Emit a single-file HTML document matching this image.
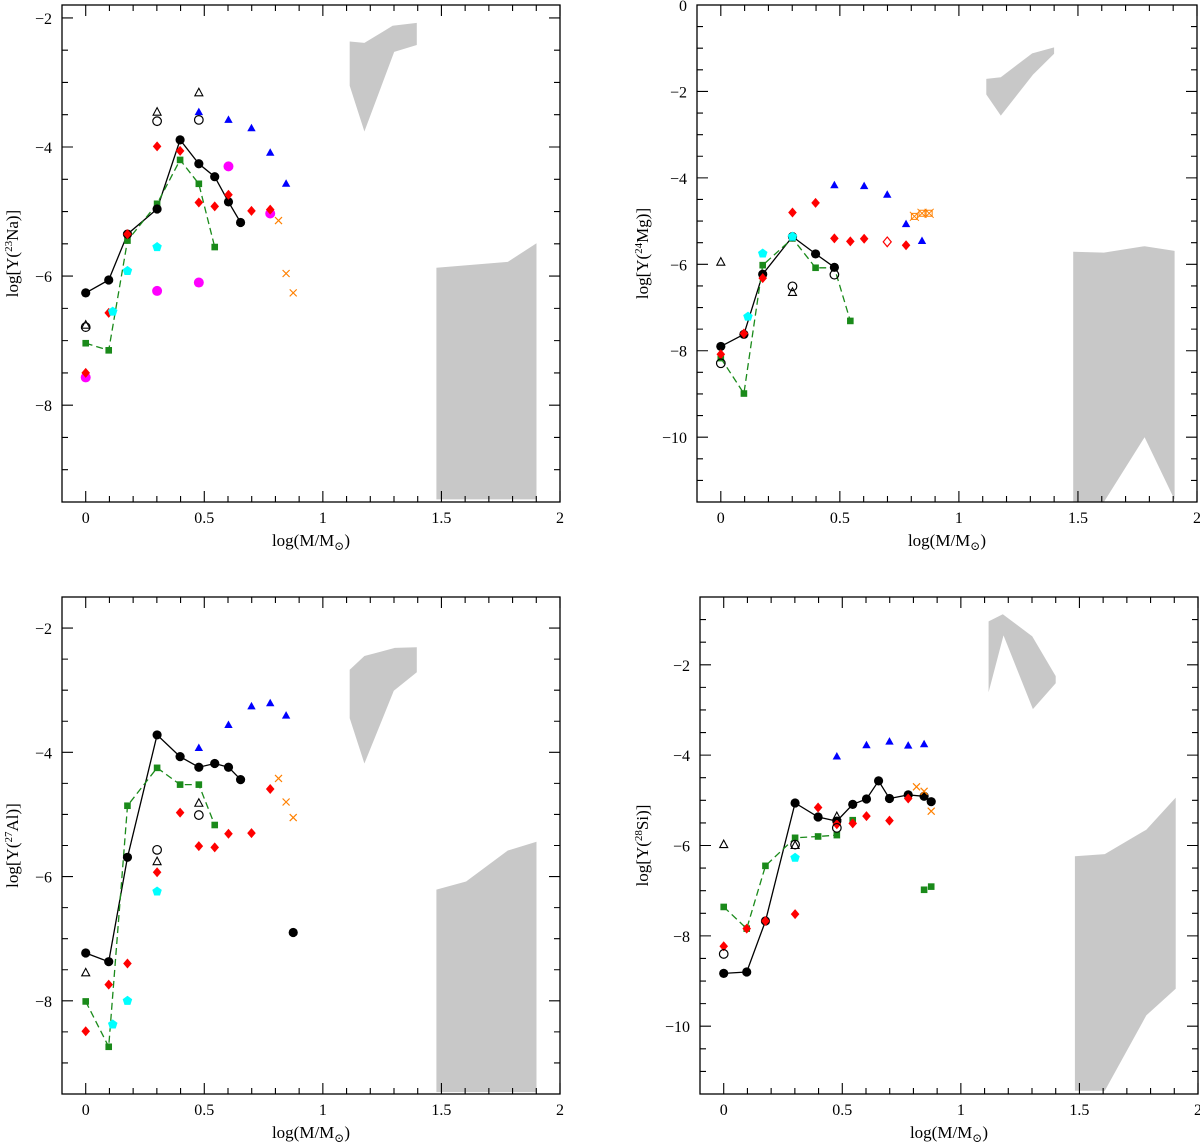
<!DOCTYPE html>
<html><head><meta charset="utf-8"><style>
html,body{margin:0;padding:0;background:#fff;}
svg text{font-family:"Liberation Serif","DejaVu Serif",serif;fill:#000;}
</style></head><body>
<svg id="fig" width="1200" height="1142" viewBox="0 0 1200 1142" xmlns="http://www.w3.org/2000/svg"></svg>
<script>
// ---------- data (x = log M/Msun, y = log abundance) ----------
// Na panel
const naBlack=[[0,-6.26],[0.097,-6.06],[0.176,-5.35],[0.301,-4.96],[0.398,-3.89],[0.477,-4.26],[0.544,-4.46],[0.602,-4.85],[0.653,-5.17]];
const naGreen=[[0,-7.04],[0.097,-7.15],[0.176,-5.45],[0.301,-4.88],[0.398,-4.20],[0.477,-4.57],[0.544,-5.55]];
const naRed=[[0,-7.50],[0.097,-6.57],[0.176,-5.35],[0.301,-3.99],[0.398,-4.06],[0.477,-4.86],[0.544,-4.92],[0.602,-4.74],[0.699,-4.99],[0.778,-4.97]];
const naMagenta=[[0,-7.57],[0.301,-6.23],[0.477,-6.10],[0.602,-4.30],[0.778,-5.03]];
const naCyan=[[0.114,-6.55],[0.176,-5.92],[0.301,-5.55]];
const naBlue=[[0.477,-3.46],[0.602,-3.58],[0.699,-3.71],[0.778,-4.09],[0.845,-4.57]];
const naOrange=[[0.813,-5.14],[0.845,-5.96],[0.875,-6.26]];
const naOpenTri=[[0,-6.76],[0.301,-3.46],[0.477,-3.16]];
const naOpenCirc=[[0,-6.79],[0.301,-3.60],[0.477,-3.58]];
const naGray1=[[1.113,-2.365],[1.175,-2.387],[1.294,-2.122],[1.396,-2.078],[1.396,-2.42],[1.301,-2.526],[1.175,-3.76],[1.113,-3.05]];
const naGray2=[[1.479,-5.87],[1.78,-5.78],[1.901,-5.49],[1.901,-9.46],[1.479,-9.46]];
// Mg panel
const mgBlack=[[0,-7.90],[0.097,-7.62],[0.176,-6.23],[0.301,-5.36],[0.398,-5.76],[0.477,-6.07]];
const mgGreen=[[0,-8.17],[0.097,-8.99],[0.176,-6.02],[0.301,-5.40],[0.398,-6.08],[0.477,-6.08],[0.544,-7.31]];
const mgRed=[[0,-8.08],[0.097,-7.60],[0.176,-6.32],[0.301,-4.80],[0.398,-4.58],[0.477,-5.40],[0.544,-5.47],[0.602,-5.41],[0.778,-5.56]];
const mgRedOpen=[[0.699,-5.48]];
const mgCyan=[[0.114,-7.21],[0.176,-5.75],[0.301,-5.36]];
const mgBlue=[[0.477,-4.17],[0.602,-4.19],[0.699,-4.39],[0.778,-5.07],[0.845,-5.46]];
const mgOrangeStar=[[0.813,-4.89],[0.845,-4.82],[0.875,-4.82]];
const mgOpenTri=[[0,-5.95],[0.301,-6.65]];
const mgOpenCirc=[[0,-8.29],[0.301,-6.51],[0.477,-6.24]];
const mgGray1=[[1.115,-1.71],[1.176,-1.67],[1.308,-1.12],[1.40,-0.98],[1.40,-1.13],[1.311,-1.61],[1.176,-2.56],[1.115,-2.07]];
const mgGray2=[[1.48,-5.71],[1.609,-5.73],[1.78,-5.58],[1.906,-5.69],[1.906,-11.45],[1.78,-10.0],[1.609,-11.5],[1.48,-11.5]];
// Al panel
const alBlack=[[0,-7.23],[0.097,-7.37],[0.176,-5.69],[0.301,-3.72],[0.398,-4.07],[0.477,-4.24],[0.544,-4.18],[0.602,-4.24],[0.653,-4.44]];
const alBlackSingle=[[0.875,-6.90]];
const alGreen=[[0,-8.01],[0.097,-8.74],[0.176,-4.86],[0.301,-4.25],[0.398,-4.52],[0.477,-4.52],[0.544,-5.17]];
const alRed=[[0,-8.49],[0.097,-7.74],[0.176,-7.40],[0.301,-5.93],[0.398,-4.97],[0.477,-5.51],[0.544,-5.53],[0.602,-5.31],[0.699,-5.30],[0.778,-4.59]];
const alCyan=[[0.114,-8.38],[0.176,-8.00],[0.301,-6.24]];
const alBlue=[[0.477,-3.93],[0.602,-3.56],[0.699,-3.26],[0.778,-3.21],[0.845,-3.41]];
const alOrange=[[0.813,-4.42],[0.845,-4.80],[0.875,-5.05]];
const alOpenTri=[[0,-7.55],[0.301,-5.76],[0.477,-4.82]];
const alOpenCirc=[[0.301,-5.57],[0.477,-5.01]];
const alGray1=[[1.113,-2.67],[1.175,-2.45],[1.304,-2.32],[1.396,-2.31],[1.396,-2.71],[1.299,-3.01],[1.175,-4.18],[1.113,-3.45]];
const alGray2=[[1.479,-6.21],[1.604,-6.08],[1.78,-5.58],[1.901,-5.44],[1.901,-9.47],[1.479,-9.47]];
// Si panel
const siBlack=[[0,-8.83],[0.097,-8.80],[0.176,-7.67],[0.301,-5.06],[0.398,-5.37],[0.477,-5.46],[0.544,-5.09],[0.602,-4.97],[0.653,-4.57],[0.699,-4.96],[0.778,-4.88],[0.845,-4.91],[0.875,-5.03]];
const siGreen=[[0,-7.36],[0.097,-7.84],[0.176,-6.45],[0.301,-5.83],[0.398,-5.80],[0.477,-5.77]];
const siGreenSingle=[[0.544,-5.44],[0.845,-6.98],[0.875,-6.91]];
const siRed=[[0,-8.23],[0.097,-7.84],[0.176,-7.67],[0.301,-7.52],[0.398,-5.16],[0.477,-5.53],[0.544,-5.51],[0.602,-5.35],[0.699,-5.45],[0.778,-4.96]];
const siCyan=[[0.301,-6.27]];
const siBlue=[[0.477,-4.03],[0.602,-3.78],[0.699,-3.70],[0.778,-3.79],[0.845,-3.76]];
const siOrange=[[0.813,-4.70],[0.845,-4.80],[0.875,-5.24]];
const siOpenTri=[[0,-5.98],[0.301,-6.00],[0.477,-5.36]];
const siOpenCirc=[[0,-8.40],[0.301,-5.98],[0.477,-5.61]];
const siGray1=[[1.117,-1.04],[1.177,-0.88],[1.301,-1.37],[1.40,-2.25],[1.40,-2.41],[1.304,-2.98],[1.18,-1.35],[1.117,-2.61]];
const siGray2=[[1.481,-6.24],[1.607,-6.19],[1.782,-5.65],[1.906,-4.94],[1.906,-9.17],[1.782,-9.76],[1.607,-11.43],[1.481,-11.43]];

const xTickLabels=["0","0.5","1","1.5","2"];
const xTickValues=[0,0.5,1,1.5,2];
const naYTicks=[-2,-4,-6,-8];
const mgYTicks=[0,-2,-4,-6,-8,-10];
const alYTicks=[-2,-4,-6,-8];
const siYTicks=[-2,-4,-6,-8,-10];

const NS="http://www.w3.org/2000/svg";
const svg=document.getElementById('fig');
function mk(tag,attrs,parent){const e=document.createElementNS(NS,tag);for(const k in attrs)e.setAttribute(k,attrs[k]);(parent||svg).appendChild(e);return e;}

function panel(cfg){
  const g=mk('g',{});
  
  
  const sx=v=>cfg.L+(v-(-0.1))/(2.1)*(cfg.R-cfg.L);
  const sy=v=>cfg.T+(cfg.ymax-v)/(cfg.ymax-cfg.ymin)*(cfg.B-cfg.T);
  const pts=a=>a.map(p=>sx(p[0]).toFixed(1)+','+sy(p[1]).toFixed(1)).join(' ');
  [cfg.gray1,cfg.gray2].forEach((arr,i)=>{
    const p=mk('polygon',{points:pts(arr),fill:'#c8c8c8',stroke:'none'},g);
    
    
  });
  const lb=mk('polyline',{points:pts(cfg.black),fill:'none',stroke:'#000','stroke-width':1.3},g);
  
  
  const lg=mk('polyline',{points:pts(cfg.green),fill:'none',stroke:'#1a8a1a','stroke-width':1.3,'stroke-dasharray':'7,4'},g);
  
  
  function marker(type,color,arr,name){
    const mg=mk('g',{},g);
    
    
    (arr||[]).forEach(p=>{
      const x=sx(p[0]),y=sy(p[1]);let e;
      if(type==='circle')e=mk('circle',{cx:x,cy:y,r:4.6,fill:color},mg);
      else if(type==='bigcircle')e=mk('circle',{cx:x,cy:y,r:5,fill:color},mg);
      else if(type==='ocircle')e=mk('circle',{cx:x,cy:y,r:4.3,fill:'none',stroke:'#000','stroke-width':1.2},mg);
      else if(type==='square')e=mk('rect',{x:x-3.3,y:y-3.3,width:6.6,height:6.6,fill:color},mg);
      else if(type==='diamond')e=mk('polygon',{points:`${x},${y-5} ${x+4.3},${y} ${x},${y+5} ${x-4.3},${y}`,fill:color},mg);
      else if(type==='odiamond')e=mk('polygon',{points:`${x},${y-4.8} ${x+4},${y} ${x},${y+4.8} ${x-4},${y}`,fill:'none',stroke:color,'stroke-width':1.2},mg);
      else if(type==='tri')e=mk('polygon',{points:`${x},${y-4.5} ${x+4.2},${y+3} ${x-4.2},${y+3}`,fill:color},mg);
      else if(type==='otri')e=mk('polygon',{points:`${x},${y-4.5} ${x+4},${y+3} ${x-4},${y+3}`,fill:'none',stroke:'#000','stroke-width':1.1},mg);
      else if(type==='pent'){let s='';for(let k=0;k<5;k++){const a=-Math.PI/2+k*2*Math.PI/5;s+=(x+5*Math.cos(a)).toFixed(1)+','+(y+5*Math.sin(a)).toFixed(1)+' ';}e=mk('polygon',{points:s,fill:color},mg);}
      else if(type==='cross')e=mk('path',{d:`M${x-3.5},${y-3.5}L${x+3.5},${y+3.5}M${x-3.5},${y+3.5}L${x+3.5},${y-3.5}`,stroke:color,'stroke-width':1.2,fill:'none'},mg);
      else if(type==='star')e=mk('path',{d:`M${x-3},${y-3}h6v6h-6z M${x-4.5},${y-4.5}L${x+4.5},${y+4.5}M${x-4.5},${y+4.5}L${x+4.5},${y-4.5}`,stroke:color,'stroke-width':1,fill:'none'},mg);
      
      
    });
  }
  marker('square','#1a8a1a',cfg.green,'green-squares');
  marker('square','#1a8a1a',cfg.greenSingle,'green-squares-extra');
  marker('circle','#000',cfg.black,'black-circles');
  marker('circle','#000',cfg.blackSingle,'black-circle-extra');
  marker('bigcircle','#ff00ff',cfg.magenta,'magenta-circles');
  marker('diamond','#ff0000',cfg.red,'red-diamonds');
  marker('odiamond','#ff0000',cfg.redOpen,'red-open-diamond');
  marker('pent','#00ffff',cfg.cyan,'cyan-pentagons');
  marker('tri','#0000ff',cfg.blue,'blue-triangles');
  marker('cross','#ff8000',cfg.orange,'orange-crosses');
  marker('star','#ff8000',cfg.orangeStar,'orange-stars');
  marker('otri','#000',cfg.openTri,'open-triangles');
  marker('ocircle','#000',cfg.openCirc,'open-circles');
  const fr=mk('rect',{x:cfg.L,y:cfg.T,width:cfg.R-cfg.L,height:cfg.B-cfg.T,fill:'none',stroke:'#000','stroke-width':1.3},g);
  
  
  let d='';
  for(let i=0;i<=20;i++){const v=i*0.1;const x=sx(v);const maj=(i%5===0);const len=maj?11:6;
    d+=`M${x},${cfg.B}v${-len}M${x},${cfg.T}v${len}`;}
  for(let v=Math.ceil(cfg.ymin*2)/2;v<=cfg.ymax+1e-9;v+=0.5){const y=sy(v);const maj=Math.abs(v%2)<1e-6;const len=maj?11:6;
    d+=`M${cfg.L},${y}h${len}M${cfg.R},${y}h${-len}`;}
  const tk=mk('path',{d:d,stroke:'#000','stroke-width':1.1,fill:'none'},g);
  
  
  xTickValues.forEach((v,i)=>{
    const t=mk('text',{x:sx(v),y:cfg.B+21,'font-size':16,'text-anchor':'middle'},g);t.textContent=xTickLabels[i];
    
    
  });
  cfg.yTicks.forEach(v=>{
    const t=mk('text',{x:cfg.L-10,y:sy(v)+6,'font-size':16,'text-anchor':'end'},g);t.textContent=v===0?'0':'\u2212'+Math.abs(v);
    
    
  });
  const xt=mk('text',{x:(cfg.L+cfg.R)/2,y:cfg.B+44,'font-size':17,'text-anchor':'middle'},g);
  xt.innerHTML='log(M/M<tspan font-size="12" dy="4">\u2299</tspan><tspan dy="-4">)</tspan>';
  
  
  const cy=(cfg.T+cfg.B)/2;
  const yt=mk('text',{x:cfg.ytx,y:cy,'font-size':17,'text-anchor':'middle',transform:`rotate(-90 ${cfg.ytx} ${cy})`},g);
  yt.innerHTML=`log[Y(<tspan font-size="11" dy="-6">${cfg.iso}</tspan><tspan dy="6">${cfg.el})]</tspan>`;
  
  
}

panel({name:'panel-na23',L:62,R:560,T:5,B:502,ymin:-9.5,ymax:-1.8,ytx:18,iso:'23',el:'Na',yTicks:naYTicks,
  black:naBlack,green:naGreen,red:naRed,magenta:naMagenta,cyan:naCyan,blue:naBlue,orange:naOrange,openTri:naOpenTri,openCirc:naOpenCirc,gray1:naGray1,gray2:naGray2});
panel({name:'panel-mg24',L:697,R:1197,T:5,B:502,ymin:-11.5,ymax:0,ytx:648,iso:'24',el:'Mg',yTicks:mgYTicks,
  black:mgBlack,green:mgGreen,red:mgRed,redOpen:mgRedOpen,cyan:mgCyan,blue:mgBlue,orangeStar:mgOrangeStar,openTri:mgOpenTri,openCirc:mgOpenCirc,gray1:mgGray1,gray2:mgGray2});
panel({name:'panel-al27',L:62,R:560,T:597,B:1094,ymin:-9.5,ymax:-1.5,ytx:18,iso:'27',el:'Al',yTicks:alYTicks,
  black:alBlack,blackSingle:alBlackSingle,green:alGreen,red:alRed,cyan:alCyan,blue:alBlue,orange:alOrange,openTri:alOpenTri,openCirc:alOpenCirc,gray1:alGray1,gray2:alGray2});
panel({name:'panel-si28',L:700,R:1198,T:597,B:1094,ymin:-11.5,ymax:-0.5,ytx:648,iso:'28',el:'Si',yTicks:siYTicks,
  black:siBlack,green:siGreen,greenSingle:siGreenSingle,red:siRed,cyan:siCyan,blue:siBlue,orange:siOrange,openTri:siOpenTri,openCirc:siOpenCirc,gray1:siGray1,gray2:siGray2});
</script>
</body></html>
